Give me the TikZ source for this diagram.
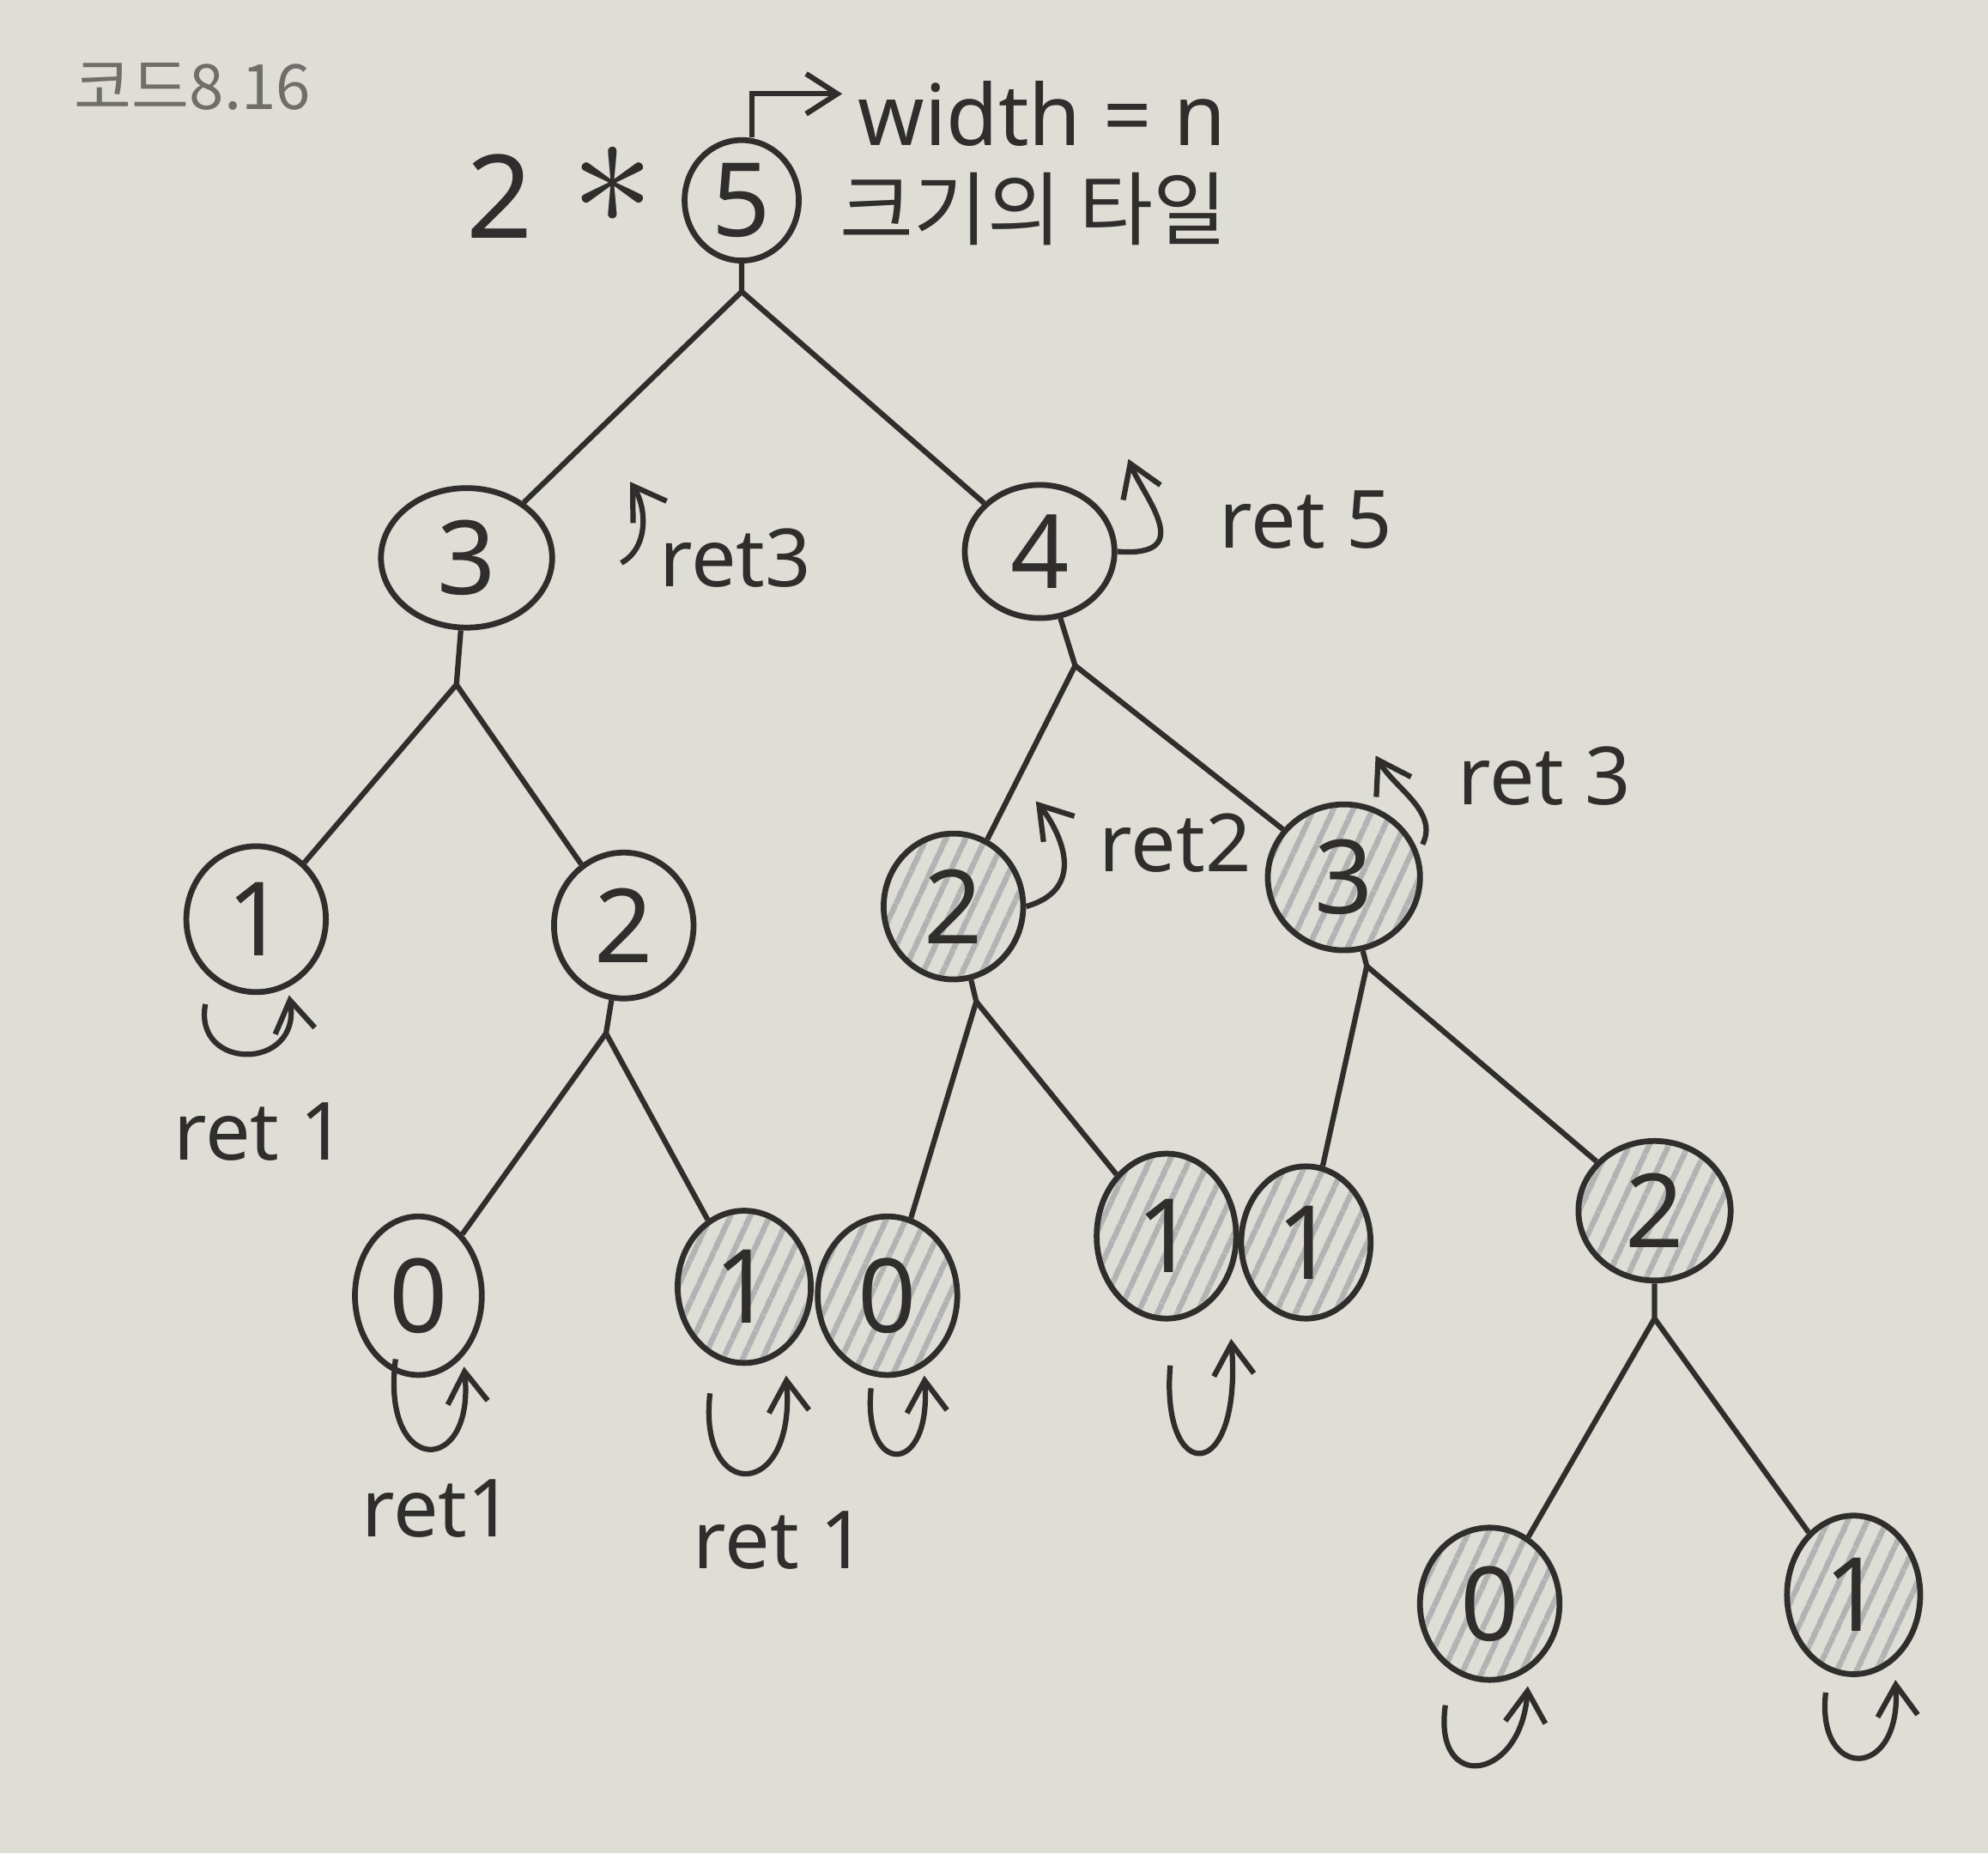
\documentclass[tikz,border=0pt]{standalone}
\usepackage{fontspec}
\setmainfont{Noto Sans}
\newfontfamily\korfont{Noto Sans CJK KR}
\usetikzlibrary{shapes.geometric,patterns.meta,arrows.meta}

\definecolor{paper}{RGB}{222,222,215}
\definecolor{ink}{RGB}{48,46,44}
\definecolor{pencil}{RGB}{112,110,106}

\tikzset{
  tn/.style={ellipse,draw=ink,line width=1.3pt,minimum width=1.1cm,minimum height=1.15cm,
    inner sep=0pt,text=ink,font=\fontsize{23}{25}\selectfont},
  hit/.style={tn,pattern={Lines[angle=65,distance=4pt,line width=1.3pt]},pattern color=gray!60},
  edge/.style={draw=ink,line width=1.2pt},
  retarr/.style={draw=ink,line width=1.2pt,-{Straight Barb[length=7pt,width=9pt]}},
  retlbl/.style={text=ink,inner sep=0pt,font=\fontsize{18}{20}\selectfont},
}

\begin{document}
\begin{tikzpicture}[x=0.01cm,y=0.01cm]
  \fill[paper] (0,0) rectangle (1568,-1462);
  \useasboundingbox (0,0) rectangle (1568,-1462);

  % header
  \node[text=pencil,font=\korfont\fontsize{14}{16}\selectfont] (TT) at (152,-68) {코드8.16};
  \node[text=ink,font=\fontsize{26}{28}\selectfont] (AX) at (442,-152) {2\,\,\raisebox{0.12em}{\scalebox{1.5}{$\ast$}}};
  \node[text=ink,font=\fontsize{19}{21}\selectfont] (AW) at (822,-90) {width = n};
  \node[text=ink,font=\korfont\fontsize{18}{20}\selectfont] (AK) at (815,-165) {크기의 타일};

  % tree
  \node[tn,minimum width=0.9cm,minimum height=0.95cm] (A1) at (585,-158) {5};

  \node[tn,minimum width=1.35cm,minimum height=1.1cm] (B1) at (368,-440) {3};
  \node[tn,minimum width=1.18cm,minimum height=1.05cm] (B2) at (820,-435) {4};

  \node[tn] (C1) at (202,-725) {1};
  \node[tn] (C2) at (492,-730) {2};
  \node[hit] (C3) at (752,-715) {2};
  \node[hit,minimum width=1.2cm] (C4) at (1060,-692) {3};

  \node[tn,minimum width=1.0cm,minimum height=1.25cm] (D1) at (330,-1022) {0};
  \node[hit,minimum width=1.05cm,minimum height=1.2cm] (D2) at (587,-1015) {1};
  \node[hit,minimum width=1.1cm,minimum height=1.25cm] (D3) at (700,-1022) {0};
  \node[hit,minimum width=1.1cm,minimum height=1.3cm] (D4) at (920,-975) {1};
  \node[hit,minimum width=1.02cm,minimum height=1.2cm] (D5) at (1030,-980) {1};
  \node[hit,minimum width=1.2cm,minimum height=1.1cm] (D6) at (1305,-955) {2};

  \node[hit,minimum width=1.1cm,minimum height=1.2cm] (E1) at (1175,-1265) {0};
  \node[hit,minimum width=1.05cm,minimum height=1.25cm] (E2) at (1462,-1258) {1};

  % branch points
  \coordinate (Ab) at (585,-230);
  \coordinate (B1b) at (360,-540);
  \coordinate (B2b) at (848,-525);
  \coordinate (C2b) at (478,-815);
  \coordinate (C3b) at (770,-790);
  \coordinate (C4b) at (1078,-762);
  \coordinate (D6b) at (1305,-1040);

  \draw[edge] (A1) -- (Ab) -- (B1);
  \draw[edge] (Ab) -- (B2);
  \draw[edge] (B1) -- (B1b) -- (C1);
  \draw[edge] (B1b) -- (C2);
  \draw[edge] (B2) -- (B2b) -- (C3);
  \draw[edge] (B2b) -- (C4);
  \draw[edge] (C2) -- (C2b) -- (D1);
  \draw[edge] (C2b) -- (D2);
  \draw[edge] (C3) -- (C3b) -- (D3);
  \draw[edge] (C3b) -- (D4);
  \draw[edge] (C4) -- (C4b) -- (D5);
  \draw[edge] (C4b) -- (D6);
  \draw[edge] (D6) -- (D6b) -- (E1);
  \draw[edge] (D6b) -- (E2);

  % width arrow
  \draw[retarr] ([xshift=0.08cm]A1.north) |- ([yshift=0.16cm]AW.west);

  % side returns
  \draw[retarr] (490,-444) .. controls (512,-432) and (510,-400) .. (497,-380);
  \node[retlbl] (L1) at (580,-440) {ret3};
  \draw[retarr] (B2.east) .. controls (945,-440) and (902,-392) .. (890,-362);
  \node[retlbl] (L2) at (1030,-410) {ret 5};
  \draw[retarr] (C3.east) .. controls (862,-700) and (832,-650) .. (817,-632);
  \node[retlbl] (L3) at (927,-665) {ret2};
  \draw[retarr] (1122,-666) .. controls (1135,-640) and (1100,-622) .. (1085,-596);
  \node[retlbl] (L4) at (1218,-612) {ret 3};

  % leaf returns
  \draw[retarr] (162,-792) .. controls (152,-845) and (238,-845) .. (228,-785);
  \node[retlbl] (L5) at (205,-893) {ret 1};
  \draw[retarr] (312,-1072) .. controls (300,-1165) and (375,-1165) .. (366,-1078);
  \node[retlbl] (L6) at (345,-1190) {ret1};
  \draw[retarr] (560,-1099) .. controls (550,-1185) and (628,-1185) .. (620,-1085);
  \draw[retarr] (687,-1095) .. controls (680,-1165) and (735,-1165) .. (729,-1085);
  \node[retlbl] (L7) at (615,-1215) {ret 1};
  \draw[retarr] (923,-1077) .. controls (915,-1172) and (980,-1172) .. (971,-1056);
  \draw[retarr] (1140,-1345) .. controls (1130,-1415) and (1200,-1405) .. (1205,-1330);
  \draw[retarr] (1440,-1335) .. controls (1432,-1405) and (1500,-1405) .. (1495,-1325);
\end{tikzpicture}
\end{document}
